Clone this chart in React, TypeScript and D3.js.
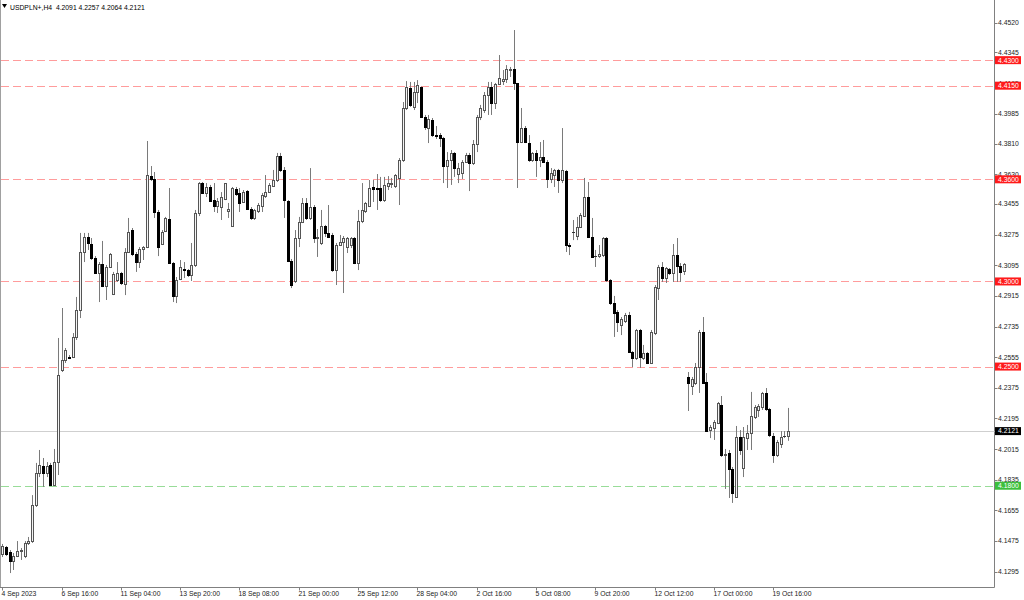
import React from "react";
import * as d3 from "d3";

const symbolLabel = "USDPLN+,H4";
const headerValues = ["4.2091", "4.2257", "4.2064", "4.2121"];

const opens = [
  4.1399, 4.1440, 4.1411, 4.1358, 4.1387, 4.1417, 4.1387, 4.1464, 4.1475, 4.1687,
  4.1875, 4.1916, 4.1875, 4.1922, 4.1804, 4.1939, 4.2480, 4.2539, 4.2556, 4.2556,
  4.2674, 4.2832, 4.3173, 4.3261, 4.3220, 4.3138, 4.3050, 4.3102, 4.2973, 4.3085,
  4.2926, 4.3008, 4.3050, 4.2985, 4.3173, 4.3302, 4.3161, 4.3114, 4.3191, 4.3202,
  4.3619, 4.3602, 4.3408, 4.3220, 4.3296, 4.3367, 4.3108, 4.2915, 4.3014, 4.3073,
  4.3067, 4.3038, 4.3097, 4.3402, 4.3578, 4.3520, 4.3555, 4.3478, 4.3443, 4.3437,
  4.3484, 4.3414, 4.3326, 4.3543, 4.3520, 4.3467, 4.3531, 4.3426, 4.3373, 4.3414,
  4.3443, 4.3502, 4.3525, 4.3561, 4.3596, 4.3737, 4.3655, 4.3473, 4.3120, 4.3003,
  4.3255, 4.3349, 4.3461, 4.3373, 4.3437, 4.3255, 4.3226, 4.3326, 4.3285, 4.3273,
  4.3067, 4.3214, 4.3232, 4.3202, 4.3214, 4.3255, 4.3108, 4.3355, 4.3414, 4.3443,
  4.3555, 4.3549, 4.3549, 4.3478, 4.3561, 4.3572, 4.3561, 4.3608, 4.3713, 4.4019,
  4.4136, 4.4025, 4.4113, 4.4140, 4.3966, 4.3901, 4.3948, 4.3860, 4.3860, 4.3843,
  4.3678, 4.3713, 4.3755, 4.3631, 4.3637, 4.3702, 4.3743, 4.3696, 4.3807, 4.3966,
  4.4007, 4.4095, 4.4142, 4.4048, 4.4160, 4.4177, 4.4189, 4.4242, 4.4248, 4.4166,
  4.3819, 4.3901, 4.3813, 4.3713, 4.3755, 4.3713, 4.3731, 4.3702, 4.3602, 4.3625,
  4.3655, 4.3596, 4.3649, 4.3214, 4.3290, 4.3267, 4.3320, 4.3384, 4.3496, 4.3261,
  4.3149, 4.3149, 4.3155, 4.3255, 4.3008, 4.2873, 4.2821, 4.2744, 4.2768, 4.2803,
  4.2585, 4.2550, 4.2715, 4.2550, 4.2580, 4.2521, 4.2697, 4.2961, 4.3085, 4.3020,
  4.3073, 4.3050, 4.3155, 4.3091, 4.3061, 4.2439, 4.2386, 4.2403, 4.2497, 4.2703,
  4.2409, 4.2127, 4.2139, 4.2168, 4.2274, 4.1981, 4.1992, 4.1898, 4.1734, 4.2086,
  4.1904, 4.2080, 4.2110, 4.2204, 4.2245, 4.2262, 4.2345, 4.2251, 4.2092, 4.1981,
  4.2045, 4.2092, 4.2091,
];

const highs = [
  4.1458, 4.1446, 4.1422, 4.1405, 4.1475, 4.1434, 4.1475, 4.1499, 4.1745, 4.1934,
  4.2010, 4.1963, 4.1939, 4.1934, 4.2016, 4.2668, 4.2844, 4.2609, 4.2568, 4.2697,
  4.2909, 4.3285, 4.3285, 4.3285, 4.3255, 4.3149, 4.3114, 4.3238, 4.3097, 4.3167,
  4.3056, 4.3114, 4.3056, 4.3196, 4.3373, 4.3314, 4.3173, 4.3202, 4.3208, 4.3825,
  4.3678, 4.3643, 4.3420, 4.3302, 4.3379, 4.3549, 4.3114, 4.3026, 4.3126, 4.3114,
  4.3073, 4.3226, 4.3420, 4.3584, 4.3584, 4.3578, 4.3567, 4.3578, 4.3490, 4.3525,
  4.3578, 4.3461, 4.3555, 4.3555, 4.3549, 4.3537, 4.3537, 4.3437, 4.3426, 4.3461,
  4.3520, 4.3625, 4.3578, 4.3655, 4.3755, 4.3755, 4.3672, 4.3478, 4.3132, 4.3302,
  4.3379, 4.3490, 4.3490, 4.3666, 4.3449, 4.3308, 4.3420, 4.3332, 4.3449, 4.3285,
  4.3226, 4.3273, 4.3267, 4.3261, 4.3261, 4.3261, 4.3420, 4.3578, 4.3467, 4.3596,
  4.3596, 4.3631, 4.3614, 4.3614, 4.3619, 4.3608, 4.3631, 4.3725, 4.4054, 4.4177,
  4.4172, 4.4172, 4.4183, 4.4145, 4.3978, 4.3978, 4.3960, 4.3913, 4.3872, 4.3849,
  4.3760, 4.3772, 4.3760, 4.3696, 4.3713, 4.3755, 4.3755, 4.3831, 4.3978, 4.4037,
  4.4113, 4.4172, 4.4172, 4.4166, 4.4330, 4.4242, 4.4271, 4.4260, 4.4477, 4.4166,
  4.4019, 4.3913, 4.3860, 4.3760, 4.3772, 4.3819, 4.3831, 4.3713, 4.3666, 4.3661,
  4.3661, 4.3901, 4.3655, 4.3226, 4.3361, 4.3379, 4.3402, 4.3608, 4.3584, 4.3373,
  4.3185, 4.3214, 4.3261, 4.3261, 4.3014, 4.2915, 4.2832, 4.2791, 4.2815, 4.2821,
  4.2591, 4.2721, 4.2721, 4.2627, 4.2585, 4.2715, 4.2979, 4.3097, 4.3114, 4.3085,
  4.3079, 4.3220, 4.3255, 4.3108, 4.3108, 4.2468, 4.2439, 4.2521, 4.2715, 4.2791,
  4.2462, 4.2157, 4.2186, 4.2292, 4.2327, 4.2016, 4.2010, 4.1910, 4.2151, 4.2127,
  4.2145, 4.2157, 4.2351, 4.2274, 4.2280, 4.2351, 4.2374, 4.2257, 4.2110, 4.2069,
  4.2121, 4.2121, 4.2257,
];

const lows = [
  4.1381, 4.1387, 4.1287, 4.1305, 4.1381, 4.1364, 4.1375, 4.1452, 4.1464, 4.1675,
  4.1851, 4.1793, 4.1851, 4.1798, 4.1798, 4.1863, 4.2468, 4.2521, 4.2544, 4.2550,
  4.2656, 4.2785, 4.3114, 4.3185, 4.3126, 4.3044, 4.2879, 4.2967, 4.2891, 4.3079,
  4.2920, 4.2997, 4.2979, 4.2920, 4.3167, 4.3149, 4.3056, 4.3079, 4.3126, 4.3196,
  4.3590, 4.3373, 4.3149, 4.3214, 4.3290, 4.3108, 4.2879, 4.2873, 4.3008, 4.3020,
  4.3026, 4.3003, 4.3085, 4.3384, 4.3514, 4.3496, 4.3467, 4.3408, 4.3402, 4.3361,
  4.3478, 4.3373, 4.3320, 4.3502, 4.3408, 4.3461, 4.3420, 4.3361, 4.3361, 4.3402,
  4.3408, 4.3490, 4.3520, 4.3555, 4.3584, 4.3643, 4.3373, 4.3114, 4.2961, 4.2991,
  4.3202, 4.3343, 4.3361, 4.3361, 4.3226, 4.3144, 4.3214, 4.3261, 4.3255, 4.3056,
  4.2979, 4.3208, 4.2932, 4.3167, 4.3196, 4.3102, 4.3067, 4.3343, 4.3402, 4.3437,
  4.3467, 4.3420, 4.3467, 4.3467, 4.3537, 4.3549, 4.3549, 4.3449, 4.3702, 4.4007,
  4.4025, 4.4007, 4.4048, 4.3960, 4.3890, 4.3813, 4.3849, 4.3837, 4.3790, 4.3578,
  4.3549, 4.3567, 4.3614, 4.3578, 4.3602, 4.3696, 4.3531, 4.3684, 4.3760, 4.3948,
  4.3990, 4.3978, 4.3978, 4.4013, 4.4154, 4.4154, 4.4166, 4.4201, 4.4125, 4.3549,
  4.3813, 4.3813, 4.3702, 4.3702, 4.3614, 4.3672, 4.3696, 4.3549, 4.3578, 4.3555,
  4.3520, 4.3578, 4.3173, 4.3155, 4.3243, 4.3243, 4.3314, 4.3379, 4.3255, 4.3138,
  4.3085, 4.3138, 4.3144, 4.2997, 4.2862, 4.2674, 4.2703, 4.2685, 4.2756, 4.2580,
  4.2497, 4.2539, 4.2492, 4.2539, 4.2515, 4.2515, 4.2685, 4.2891, 4.2997, 4.2991,
  4.3038, 4.2997, 4.2997, 4.2997, 4.3038, 4.2239, 4.2333, 4.2392, 4.2345, 4.2398,
  4.2116, 4.2080, 4.2069, 4.2162, 4.1969, 4.1781, 4.1728, 4.1699, 4.1728, 4.1981,
  4.1851, 4.2010, 4.2010, 4.2192, 4.2204, 4.2245, 4.2239, 4.2086, 4.1934, 4.1969,
  4.2022, 4.2080, 4.2064,
];

const closes = [
  4.1446, 4.1399, 4.1358, 4.1387, 4.1417, 4.1422, 4.1464, 4.1475, 4.1687, 4.1875,
  4.1922, 4.1875, 4.1916, 4.1804, 4.1939, 4.2450, 4.2539, 4.2597, 4.2550, 4.2674,
  4.2832, 4.3173, 4.3261, 4.3226, 4.3138, 4.3050, 4.3102, 4.2973, 4.3085, 4.3161,
  4.3044, 4.3050, 4.2991, 4.3173, 4.3290, 4.3161, 4.3114, 4.3191, 4.3202, 4.3625,
  4.3602, 4.3408, 4.3202, 4.3290, 4.3373, 4.3108, 4.2915, 4.3008, 4.3085, 4.3067,
  4.3038, 4.3097, 4.3402, 4.3578, 4.3520, 4.3555, 4.3473, 4.3443, 4.3473, 4.3496,
  4.3578, 4.3426, 4.3549, 4.3514, 4.3461, 4.3525, 4.3426, 4.3373, 4.3420, 4.3449,
  4.3508, 4.3525, 4.3567, 4.3596, 4.3737, 4.3655, 4.3478, 4.3120, 4.2979, 4.3255,
  4.3349, 4.3461, 4.3373, 4.3437, 4.3255, 4.3261, 4.3326, 4.3285, 4.3261, 4.3067,
  4.3214, 4.3232, 4.3255, 4.3255, 4.3255, 4.3108, 4.3355, 4.3420, 4.3461, 4.3549,
  4.3543, 4.3543, 4.3478, 4.3567, 4.3578, 4.3578, 4.3625, 4.3713, 4.4019, 4.4142,
  4.4037, 4.4113, 4.4154, 4.3966, 4.3907, 4.3954, 4.3860, 4.3855, 4.3843, 4.3678,
  4.3713, 4.3755, 4.3666, 4.3666, 4.3702, 4.3743, 4.3696, 4.3807, 4.3966, 4.4019,
  4.4095, 4.4142, 4.4048, 4.4160, 4.4195, 4.4189, 4.4248, 4.4248, 4.4166, 4.3819,
  4.3901, 4.3819, 4.3713, 4.3755, 4.3713, 4.3731, 4.3702, 4.3602, 4.3637, 4.3655,
  4.3596, 4.3655, 4.3214, 4.3208, 4.3288, 4.3320, 4.3390, 4.3496, 4.3261, 4.3144,
  4.3147, 4.3161, 4.3255, 4.3008, 4.2873, 4.2815, 4.2762, 4.2779, 4.2803, 4.2585,
  4.2550, 4.2715, 4.2556, 4.2580, 4.2521, 4.2703, 4.2967, 4.3085, 4.3020, 4.3079,
  4.3050, 4.3155, 4.3091, 4.3056, 4.3102, 4.2403, 4.2427, 4.2497, 4.2703, 4.2403,
  4.2121, 4.2145, 4.2174, 4.2286, 4.1981, 4.1986, 4.1898, 4.1757, 4.2086, 4.2010,
  4.2086, 4.2110, 4.2210, 4.2262, 4.2268, 4.2345, 4.2251, 4.2098, 4.1981, 4.2057,
  4.2086, 4.2090, 4.2121,
];

const timeTickIndex = [0, 16, 32, 48, 64, 80, 96, 112, 128, 144, 160, 176, 192, 208];
const timeTickLabels = [
  "4 Sep 2023", "6 Sep 16:00", "11 Sep 04:00", "13 Sep 20:00", "18 Sep 08:00",
  "21 Sep 00:00", "25 Sep 12:00", "28 Sep 04:00", "2 Oct 16:00", "5 Oct 08:00",
  "9 Oct 20:00", "12 Oct 12:00", "17 Oct 00:00", "19 Oct 16:00",
];

const priceTicks = [
  4.4520, 4.4345, 4.4165, 4.3985, 4.3810, 4.3630, 4.3455, 4.3275, 4.3095, 4.2915,
  4.2735, 4.2555, 4.2375, 4.2195, 4.2015, 4.1835, 4.1655, 4.1475, 4.1295,
];

const resistanceLevels = [4.4300, 4.4150, 4.3600, 4.3000, 4.2500];
const supportLevels = [4.1800];
const bidPrice = 4.2121;

const FONT = "'Liberation Sans', Arial, sans-serif";

export default function App() {
  const W = 1024;
  const H = 600;
  const axisX = 994.5;
  const axisY = 587.5;

  const x = d3.scaleLinear().domain([0, 208]).range([2.3, 773.1]);
  const y = d3.scaleLinear().domain([4.1295, 4.452]).range([571.7, 22.7]);
  const fmt = d3.format(".4f");

  const candles = d3.range(closes.length).map((i) => ({
    i,
    o: opens[i],
    h: highs[i],
    l: lows[i],
    c: closes[i],
  }));

  const snap = (v: number) => Math.round(v);

  return (
    <svg
      width={W}
      height={H}
      style={{ position: "absolute", left: 0, top: 0, display: "block", background: "#fff" }}
      fontFamily={FONT}
    >
      <rect x={0} y={0} width={W} height={H} fill="#fff" />
      {/* frame */}
      <line x1={0.5} x2={0.5} y1={0} y2={axisY} stroke="#a0a0a0" />
      <line x1={0} x2={axisX} y1={axisY} y2={axisY} stroke="#808080" />
      <line x1={axisX} x2={axisX} y1={0} y2={axisY} stroke="#808080" />

      {/* bid line */}
      <line x1={1} x2={axisX} y1={snap(y(bidPrice)) + 0.5} y2={snap(y(bidPrice)) + 0.5} stroke="#cfcfcf" />

      {/* level lines */}
      {resistanceLevels.map((v) => (
        <line
          key={"r" + v}
          x1={1}
          x2={axisX}
          y1={snap(y(v)) + 0.5}
          y2={snap(y(v)) + 0.5}
          stroke="#ff9c9c"
          strokeDasharray="8,4"
        />
      ))}
      {supportLevels.map((v) => (
        <line
          key={"s" + v}
          x1={1}
          x2={axisX}
          y1={snap(y(v)) + 0.5}
          y2={snap(y(v)) + 0.5}
          stroke="#98dc98"
          strokeDasharray="8,4"
        />
      ))}

      {/* candles */}
      {candles.map((d) => {
        const xc = snap(x(d.i));
        const yo = snap(y(d.o));
        const yc = snap(y(d.c));
        const yh = y(d.h);
        const yl = y(d.l);
        const bull = d.c >= d.o;
        return (
          <g key={d.i}>
            <line x1={xc + 0.5} x2={xc + 0.5} y1={yh} y2={yl} stroke="#7a7a7a" />
            {Math.abs(yo - yc) < 1 ? (
              <line x1={xc - 1} x2={xc + 2} y1={yc + 0.5} y2={yc + 0.5} stroke="#333" />
            ) : bull ? (
              <rect x={xc - 0.5} y={yc + 0.5} width={2} height={yo - yc} fill="#f4f4f4" stroke="#555" />
            ) : (
              <rect x={xc - 1} y={yo} width={3} height={yc - yo + 1} fill="#000" />
            )}
          </g>
        );
      })}

      {/* header */}
      <path d="M2,4 L7,4 L4.5,8 Z" fill="#000" />
      <text x={10} y={9.5} fontSize={6.8} fill="#000" style={{ whiteSpace: "pre" }}>
        {symbolLabel + "  " + headerValues.join(" ")}
      </text>

      {/* right price axis */}
      {priceTicks.map((v) => (
        <g key={"t" + v}>
          <line x1={axisX} x2={axisX + 3} y1={snap(y(v)) + 0.5} y2={snap(y(v)) + 0.5} stroke="#808080" />
          <text x={998} y={y(v) + 2.4} fontSize={6.8} fill="#222">
            {fmt(v)}
          </text>
        </g>
      ))}

      {/* level labels */}
      {resistanceLevels.map((v) => (
        <g key={"rl" + v}>
          <rect x={995} y={y(v) - 4} width={26} height={8} fill="#ff1a1a" />
          <text x={998} y={y(v) + 2.4} fontSize={6.8} fill="#fff">
            {fmt(v)}
          </text>
        </g>
      ))}
      {supportLevels.map((v) => (
        <g key={"sl" + v}>
          <rect x={995} y={y(v) - 4} width={26} height={8} fill="#3cbf3c" />
          <text x={998} y={y(v) + 2.4} fontSize={6.8} fill="#fff">
            {fmt(v)}
          </text>
        </g>
      ))}
      <rect x={995} y={y(bidPrice) - 4} width={26} height={8} fill="#000" />
      <text x={998} y={y(bidPrice) + 2.4} fontSize={6.8} fill="#fff">
        {fmt(bidPrice)}
      </text>

      {/* time axis */}
      {timeTickIndex.map((ti, k) => {
        const xt = snap(x(ti)) + 0.5;
        return (
          <g key={"x" + ti}>
            <line x1={xt} x2={xt} y1={axisY} y2={axisY + 3} stroke="#808080" />
            <text x={xt - 1} y={596} fontSize={6.8} fill="#222">
              {timeTickLabels[k]}
            </text>
          </g>
        );
      })}
    </svg>
  );
}
